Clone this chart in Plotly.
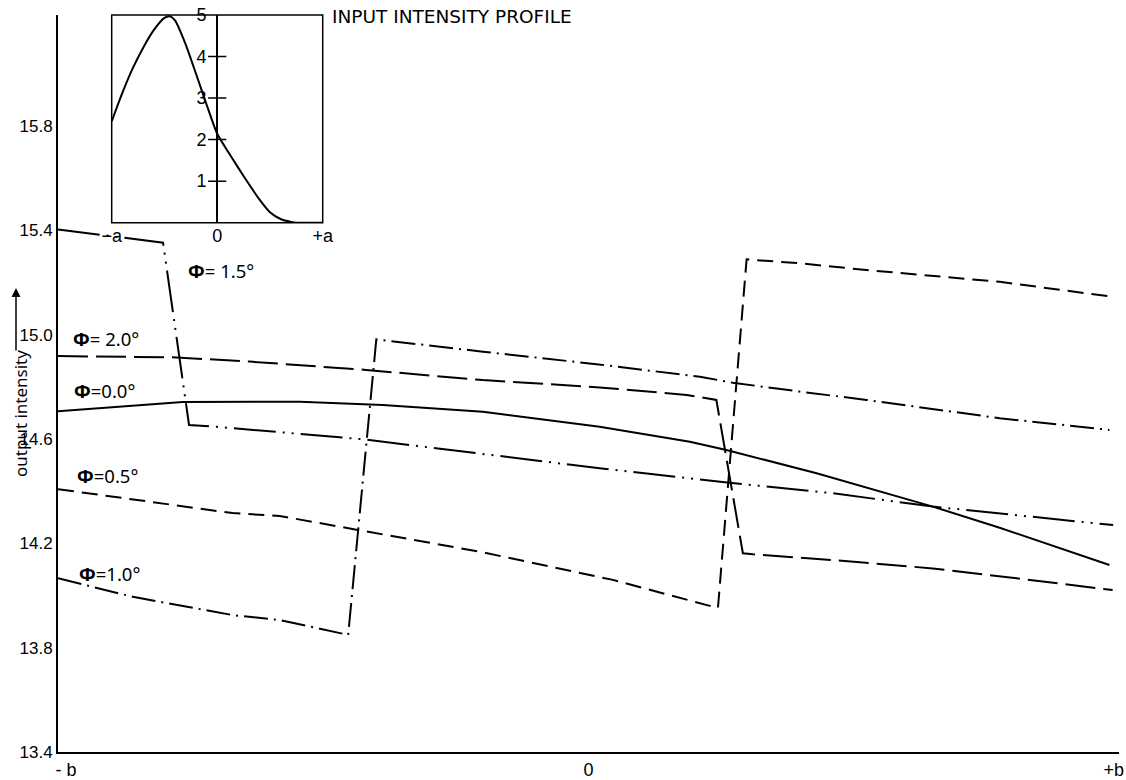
import plotly.graph_objects as go

# ---------------- data ----------------
# main chart: output intensity vs position (-b .. +b mapped to -1 .. 1)
x_phi00 = [-1.0, -0.765, -0.544, -0.388, -0.199, 0.021, 0.191, 0.260, 0.430, 0.649, 0.775, 0.982]
y_phi00 = [14.707, 14.742, 14.743, 14.731, 14.705, 14.647, 14.590, 14.558, 14.469, 14.341, 14.260, 14.117]

x_phi05 = [-1.0, -0.671, -0.582, -0.441, -0.205, 0.046, 0.244, 0.298, 0.398, 0.524, 0.775, 0.986]
y_phi05 = [14.408, 14.316, 14.305, 14.254, 14.168, 14.060, 13.952, 15.289, 15.274, 15.248, 15.203, 15.146]

x_phi10 = [-1.0, -0.859, -0.671, -0.582, -0.453, -0.400, -0.199, 0.015, 0.210, 0.272, 0.398, 0.524, 0.775, 0.982]
y_phi10 = [14.066, 13.995, 13.925, 13.906, 13.849, 14.982, 14.935, 14.887, 14.839, 14.816, 14.782, 14.750, 14.680, 14.635]

x_phi15 = [-1.0, -0.802, -0.753, -0.701, -0.425, -0.136, 0.021, 0.257, 0.461, 0.649, 0.807, 0.989]
y_phi15 = [15.404, 15.353, 14.654, 14.647, 14.599, 14.526, 14.488, 14.434, 14.392, 14.341, 14.309, 14.270]

x_phi20 = [-1.0, -0.777, -0.639, -0.419, -0.199, 0.021, 0.185, 0.241, 0.291, 0.310, 0.461, 0.649, 0.807, 0.988]
y_phi20 = [14.918, 14.913, 14.897, 14.865, 14.826, 14.798, 14.769, 14.750, 14.162, 14.158, 14.136, 14.104, 14.066, 14.021]

# inset: input intensity profile (-a .. +a mapped to -1 .. 1)
x_inset = [-1.0, -0.9, -0.8, -0.7, -0.6, -0.5, -0.45, -0.4, -0.3, -0.2, -0.1, 0.0,
           0.1, 0.2, 0.3, 0.4, 0.5, 0.6, 0.7, 0.76, 1.0]
y_inset = [2.44, 3.12, 3.72, 4.22, 4.64, 4.93, 4.97, 4.87, 4.30, 3.58, 2.84, 2.14,
           1.72, 1.32, 0.93, 0.56, 0.25, 0.09, 0.02, 0.0, 0.0]

main_yticks = [13.4, 13.8, 14.2, 14.6, 15.0, 15.4, 15.8]
main_xticks = [-0.985, 0, 0.99]
main_xlabels = ["- b", "0", "+b"]
inset_xticks = [-1, 0, 1]
inset_xlabels = ["\u2212a", "0", "+a"]
inset_yticks = [1, 2, 3, 4, 5]

labels = ["<b>\u03a6</b>= 2.0\u00b0", "<b>\u03a6</b>=0.0\u00b0", "<b>\u03a6</b>=0.5\u00b0",
          "<b>\u03a6</b>=1.0\u00b0", "<b>\u03a6</b>= 1.5\u00b0"]

# ---------------- geometry ----------------
W, H = 1126, 780
L, R, T, B = 58, 7, 15, 28
PW, PH = W - L - R, H - T - B


def px_x(p):
    return (p - L) / PW


def px_y(p):
    return (H - B - p) / PH


FONT = "Liberation Sans, Arial, sans-serif"
LFONT = "Noto Sans, DejaVu Sans, sans-serif"
TFONT = "DejaVu Sans, sans-serif"

fig = go.Figure()

line_w = 2
fig.add_trace(go.Scatter(x=x_phi00, y=y_phi00, mode="lines",
                         line=dict(color="black", width=line_w, dash="solid")))
fig.add_trace(go.Scatter(x=x_phi05, y=y_phi05, mode="lines",
                         line=dict(color="black", width=line_w, dash="16px,8px")))
fig.add_trace(go.Scatter(x=x_phi10, y=y_phi10, mode="lines",
                         line=dict(color="black", width=line_w, dash="24px,6px,2px,6px")))
fig.add_trace(go.Scatter(x=x_phi15, y=y_phi15, mode="lines",
                         line=dict(color="black", width=line_w, dash="42px,7px,2px,7px,2px,7px")))
fig.add_trace(go.Scatter(x=x_phi20, y=y_phi20, mode="lines",
                         line=dict(color="black", width=line_w, dash="30px,8px")))

# inset
fig.add_trace(go.Scatter(x=x_inset, y=y_inset, mode="lines", xaxis="x2", yaxis="y2",
                         line=dict(color="black", width=2, shape="spline", smoothing=0.6)))
fig.add_trace(go.Scatter(x=[0] * 4, y=inset_yticks[:4], mode="markers", xaxis="x2", yaxis="y2",
                         marker=dict(symbol="line-ew", size=13, color="black",
                                     line=dict(color="black", width=1.5))))

ix0, ix1 = px_x(111.7), px_x(322.7)
iy0, iy1 = px_y(222.7), 1.0

fig.update_layout(
    width=W, height=H,
    margin=dict(l=L, r=R, t=T, b=B, autoexpand=False),
    paper_bgcolor="white", plot_bgcolor="white",
    showlegend=False, hovermode=False,
    font=dict(family=FONT, color="black", size=17),
    xaxis=dict(range=[-1, 1], domain=[0, 1], showline=True, linewidth=2, linecolor="black",
               showgrid=False, zeroline=False, ticks="", tickvals=main_xticks, automargin=False,
               ticktext=main_xlabels, tickfont=dict(size=18, family=FONT)),
    yaxis=dict(range=[13.4, 16.226], domain=[0, 1], showline=True, linewidth=2, linecolor="black",
               showgrid=False, zeroline=False, ticks="", tickvals=main_yticks, automargin=False,
               tickformat=".1f", tickfont=dict(size=17, family=FONT)),
    xaxis2=dict(range=[-1, 1], domain=[ix0, ix1], anchor="y2", showline=False, automargin=False,
                showgrid=False, zeroline=False, ticks="", tickvals=inset_xticks,
                ticktext=inset_xlabels, tickfont=dict(size=18, family=FONT)),
    yaxis2=dict(range=[0, 5.0], domain=[iy0, iy1], anchor="free", position=(ix0 + ix1) / 2,
                showline=True, linewidth=2, linecolor="black", showgrid=False, zeroline=False,
                automargin=False, ticks="", tickvals=inset_yticks, ticklabelstandoff=6,
                tickfont=dict(size=18, family=FONT)),
)

fig.add_shape(type="rect", xref="x2 domain", yref="y2 domain", x0=0, x1=1, y0=0, y1=1,
              line=dict(color="black", width=1.5), fillcolor="rgba(0,0,0,0)")

# curve labels
label_pos = [(71, 338), (72, 390), (75, 476), (77, 573), (186, 270)]
for txt, (px, py) in zip(labels, label_pos):
    fig.add_annotation(xref="paper", yref="paper", x=px_x(px), y=px_y(py), text=txt,
                       showarrow=False, xanchor="left", yanchor="middle",
                       font=dict(family=LFONT, size=18.5, color="black"))

# inset title
fig.add_annotation(xref="paper", yref="paper", x=px_x(330), y=px_y(17),
                   text="INPUT INTENSITY PROFILE", showarrow=False, xanchor="left",
                   yanchor="middle", font=dict(family=TFONT, size=18.5, color="black"))

# y axis title with arrow
fig.add_annotation(xref="paper", yref="paper", x=px_x(20), y=px_y(414),
                   text="output intensity", textangle=-90, showarrow=False,
                   xanchor="center", yanchor="middle",
                   font=dict(family=LFONT, size=17, color="black"))
fig.add_annotation(xref="paper", yref="paper", x=px_x(16), y=px_y(288), text="",
                   showarrow=True, ax=0, ay=64, arrowhead=2, arrowsize=1.2,
                   arrowwidth=1.5, arrowcolor="black")

fig.write_html("out.html", config={"displayModeBar": False, "staticPlot": True},
               post_script="document.body.style.margin='0';document.body.style.overflow='hidden';")
